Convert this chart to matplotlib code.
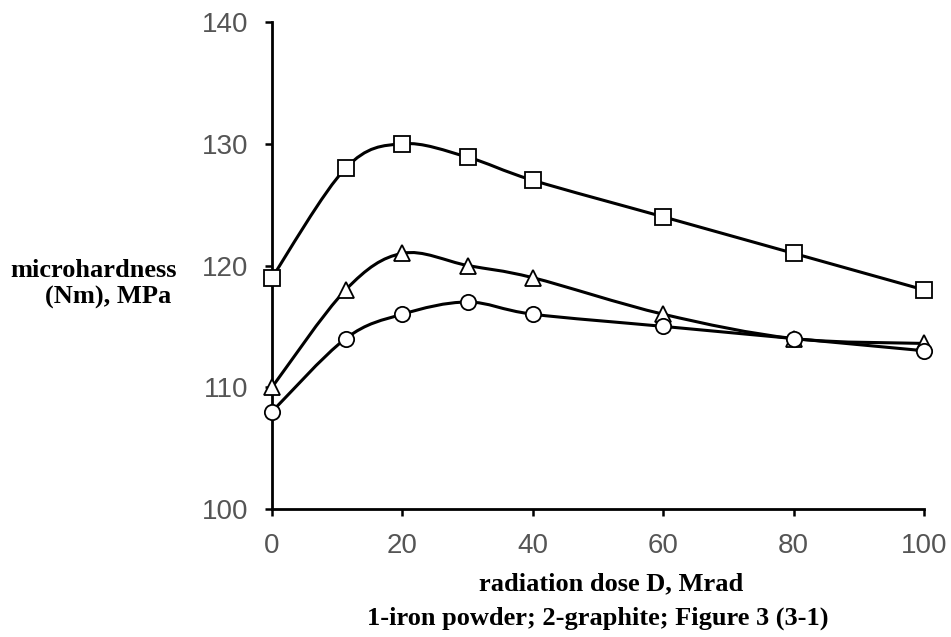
import numpy as np
import matplotlib.pyplot as plt
from matplotlib.path import Path
from matplotlib.patches import PathPatch

dose = [0, 11.3, 20, 30, 40, 60, 80, 100]
squares = [119, 128, 130, 128.9, 127, 124, 121, 118]
triangles = [110, 118, 121, 120, 119, 116, 114, 113.6]
circles = [108, 114, 116, 117, 116, 115, 114, 113]

plt.rcParams['font.family'] = ['Liberation Sans', 'DejaVu Sans']


def smooth_path(x, y):
	# Excel-like smoothed line: Catmull-Rom as cubic Bezier segments
	p = np.column_stack([x, y]).astype(float)
	n = len(p)
	verts = [p[0]]
	codes = [Path.MOVETO]
	for i in range(n - 1):
		p0 = p[i - 1] if i > 0 else p[i]
		p3 = p[i + 2] if i + 2 < n else p[i + 1]
		c1 = p[i] + (p[i + 1] - p0) / 6.0
		c2 = p[i + 1] - (p3 - p[i]) / 6.0
		verts += [c1, c2, p[i + 1]]
		codes += [Path.CURVE4] * 3
	return Path(verts, codes)


fig = plt.figure(figsize=(9.51, 6.37), dpi=100)
ax = fig.add_axes([0.286, 0.2009, 0.6856, 0.7646])

for vals, mk in [(squares, 's'), (triangles, '^'), (circles, 'o')]:
	ax.add_patch(PathPatch(smooth_path(dose, vals), fill=False, lw=2.2,
		edgecolor='black', zorder=2, clip_on=False))
	ax.plot(dose, vals, linestyle='none', marker=mk, markersize=11 if mk != '^' else 12,
		markerfacecolor='white', markeredgecolor='black', markeredgewidth=1.3,
		zorder=3, clip_on=False)

ax.set_xlim(0, 100)
ax.set_ylim(100, 140)
ax.set_xticks([0, 20, 40, 60, 80, 100])
ax.set_yticks([100, 110, 120, 130, 140])
for s in ['top', 'right']:
	ax.spines[s].set_visible(False)
for s in ['left', 'bottom']:
	ax.spines[s].set_linewidth(2)
ax.tick_params(direction='out', length=5, width=1.8, labelsize=20, labelcolor='#555555')
ax.tick_params(axis='y', pad=12)
ax.tick_params(axis='x', pad=12)

serif = dict(family='Liberation Serif', weight='bold', fontsize=19, va='center', ha='center')
fig.text(0.0988, 0.5746, 'microhardness', **serif)
fig.text(0.1136, 0.5338, '(Nm), MPa', **serif)
fig.text(0.6425, 0.083, 'radiation dose D, Mrad', **serif)
fig.text(0.629, 0.030, '1-iron powder; 2-graphite; Figure 3 (3-1)', **serif)

fig.savefig('out.png', dpi=100)
